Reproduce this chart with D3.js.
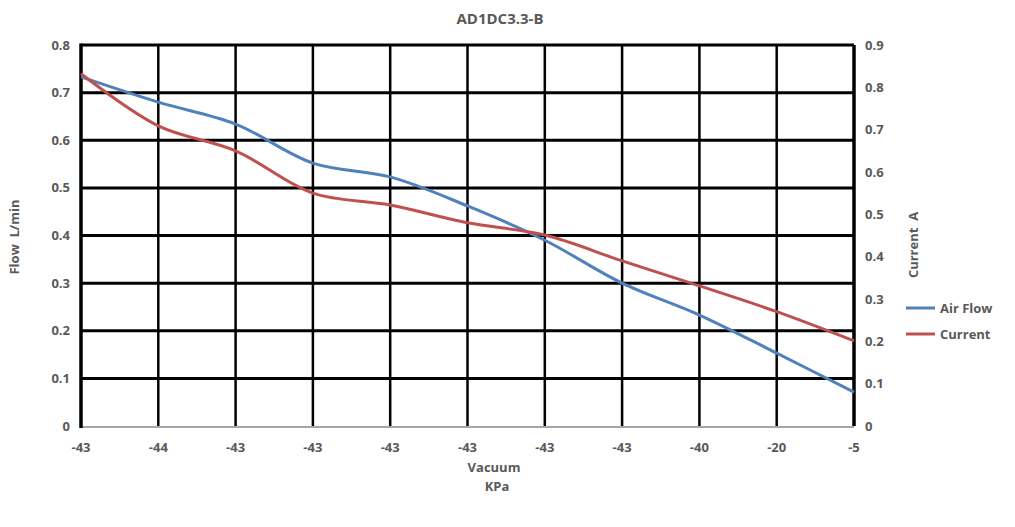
<!DOCTYPE html>
<html>
<head>
<meta charset="utf-8">
<script src="https://cdn.jsdelivr.net/npm/d3@7"></script>
<style>
  body { margin: 0; background: #fff; }
  text { font-family: "Open Sans", sans-serif; fill: #595959; }
</style>
</head>
<body>
<svg id="chart"></svg>
<script>
// chart data
const vacuumLabels = ['-43', '-44', '-43', '-43', '-43', '-43', '-43', '-43', '-40', '-20', '-5'];
const airFlow = [0.733, 0.68, 0.634, 0.552, 0.523, 0.462, 0.39, 0.30, 0.233, 0.153, 0.071];
const current = [0.832, 0.709, 0.650, 0.550, 0.522, 0.480, 0.451, 0.390, 0.331, 0.270, 0.201];
const flowTicks = [0, 0.1, 0.2, 0.3, 0.4, 0.5, 0.6, 0.7, 0.8];
const currentTicks = [0, 0.1, 0.2, 0.3, 0.4, 0.5, 0.6, 0.7, 0.8, 0.9];

const width = 1015, height = 527;
const margin = { top: 45, right: 161, bottom: 101, left: 81 };
const innerW = width - margin.left - margin.right;
const innerH = height - margin.top - margin.bottom;

const svg = d3.select('#chart')
    .attr('width', width)
    .attr('height', height);

const chart = svg.append('g')
    .attr('transform', `translate(${margin.left}, ${margin.top})`);

const x = d3.scalePoint()
    .domain(d3.range(vacuumLabels.length))
    .range([0, innerW]);

const yLeft = d3.scaleLinear().domain([0, 0.8]).range([innerH, 0]);
const yRight = d3.scaleLinear().domain([0, 0.9]).range([innerH, 0]);

// gridlines
chart.selectAll('.hgrid')
    .data(flowTicks.slice(1))
    .join('line')
    .attr('class', 'hgrid')
    .attr('x1', 0).attr('x2', innerW)
    .attr('y1', d => yLeft(d)).attr('y2', d => yLeft(d))
    .attr('stroke', '#000')
    .attr('stroke-width', 3);

chart.selectAll('.vgrid')
    .data(x.domain().slice(1))
    .join('line')
    .attr('class', 'vgrid')
    .attr('x1', d => x(d)).attr('x2', d => x(d))
    .attr('y1', 0).attr('y2', innerH)
    .attr('stroke', '#000')
    .attr('stroke-width', d => d === x.domain().length - 1 ? 3.5 : 2.5);

// axis lines
chart.append('line')
    .attr('x1', 0).attr('x2', innerW)
    .attr('y1', innerH + 1).attr('y2', innerH + 1)
    .attr('stroke', '#a6a6a6')
    .attr('stroke-width', 2);

chart.append('line')
    .attr('x1', 0).attr('x2', 0)
    .attr('y1', -1.5).attr('y2', innerH + 2)
    .attr('stroke', '#000')
    .attr('stroke-width', 3.5);

// tick labels
chart.selectAll('.xlabel')
    .data(x.domain())
    .join('text')
    .attr('class', 'xlabel')
    .attr('x', d => x(d))
    .attr('y', innerH + 26)
    .attr('text-anchor', 'middle')
    .attr('font-size', 13)
    .attr('font-weight', 'bold')
    .text(d => vacuumLabels[d]);

chart.selectAll('.ylabel')
    .data(flowTicks)
    .join('text')
    .attr('class', 'ylabel')
    .attr('x', -11)
    .attr('y', d => yLeft(d))
    .attr('dy', '0.35em')
    .attr('text-anchor', 'end')
    .attr('font-size', 13)
    .attr('font-weight', 'bold')
    .text(d => d === 0 ? '0' : d.toFixed(1));

chart.selectAll('.y2label')
    .data(currentTicks)
    .join('text')
    .attr('class', 'y2label')
    .attr('x', innerW + 11)
    .attr('y', d => yRight(d))
    .attr('dy', '0.35em')
    .attr('text-anchor', 'start')
    .attr('font-size', 13)
    .attr('font-weight', 'bold')
    .text(d => d === 0 ? '0' : d.toFixed(1));

// series
const flowLine = d3.line()
    .x((d, i) => x(i))
    .y(d => yLeft(d))
    .curve(d3.curveCatmullRom);

const currentLine = d3.line()
    .x((d, i) => x(i))
    .y(d => yRight(d))
    .curve(d3.curveCatmullRom);

chart.append('path')
    .attr('d', flowLine(airFlow))
    .attr('fill', 'none')
    .attr('stroke', '#4f81bd')
    .attr('stroke-width', 3);

chart.append('path')
    .attr('d', currentLine(current))
    .attr('fill', 'none')
    .attr('stroke', '#c0504d')
    .attr('stroke-width', 3);

// titles
svg.append('text')
    .attr('x', 500)
    .attr('y', 24)
    .attr('text-anchor', 'middle')
    .attr('font-size', 15)
    .attr('font-weight', 'bold')
    .text('AD1DC3.3-B');

svg.append('text')
    .attr('x', 494)
    .attr('y', 472)
    .attr('text-anchor', 'middle')
    .attr('font-size', 13)
    .attr('font-weight', 'bold')
    .text('Vacuum');

svg.append('text')
    .attr('x', 497)
    .attr('y', 491)
    .attr('text-anchor', 'middle')
    .attr('font-size', 13)
    .attr('font-weight', 'bold')
    .text('KPa');

svg.append('text')
    .attr('transform', 'translate(19, 237) rotate(-90)')
    .attr('text-anchor', 'middle')
    .attr('font-size', 13)
    .attr('font-weight', 'bold')
    .attr('xml:space', 'preserve')
    .text('Flow  L/min');

svg.append('text')
    .attr('transform', 'translate(918, 245) rotate(-90)')
    .attr('text-anchor', 'middle')
    .attr('font-size', 13)
    .attr('font-weight', 'bold')
    .attr('xml:space', 'preserve')
    .text('Current  A');

// legend
const legendItems = [
    { name: 'Air Flow', color: '#4f81bd' },
    { name: 'Current', color: '#c0504d' }
];

const legend = svg.append('g')
    .attr('transform', 'translate(906, 308)');

const items = legend.selectAll('.legend-item')
    .data(legendItems)
    .join('g')
    .attr('class', 'legend-item')
    .attr('transform', (d, i) => `translate(0, ${i * 26})`);

items.append('line')
    .attr('x1', 0).attr('x2', 29)
    .attr('stroke', d => d.color)
    .attr('stroke-width', 3);

items.append('text')
    .attr('x', 34)
    .attr('dy', '0.35em')
    .attr('font-size', 13)
    .attr('font-weight', 'bold')
    .text(d => d.name);
</script>
</body>
</html>
